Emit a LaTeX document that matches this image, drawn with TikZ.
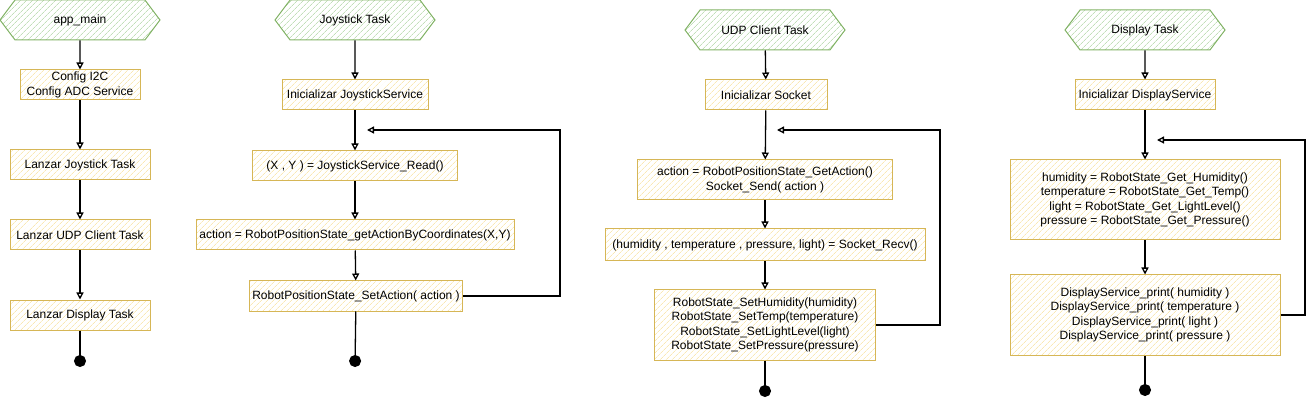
\documentclass[tikz,border=0pt]{standalone}
\usepackage{fontspec}
\setmainfont{Liberation Sans}
\usetikzlibrary{arrows.meta,shapes.symbols,patterns.meta}

\definecolor{hexline}{HTML}{82B366}
\definecolor{hexhatch}{HTML}{C2DFB9}
\definecolor{boxline}{HTML}{D6B656}
\definecolor{boxhatch}{HTML}{F9E8B4}

\tikzset{
	taskhex/.style={signal, signal to=east and west, signal pointer angle=106, draw=hexline, line width=1pt,
		pattern={Lines[angle=45,distance=4pt,line width=0.7pt]}, pattern color=hexhatch,
		minimum width=160pt, minimum height=40pt, inner sep=0pt, font=\fontsize{12}{14.4}\selectfont},
	stepbox/.style={rectangle, draw=boxline, line width=1pt,
		pattern={Lines[angle=45,distance=4pt,line width=0.7pt]}, pattern color=boxhatch,
		minimum height=30pt, inner sep=0pt, align=center, font=\fontsize{12}{14.4}\selectfont},
	flow/.style={line width=1.3pt, -{Triangle[open,length=7pt,width=7pt]}},
	endflow/.style={line width=1.3pt, -{Circle[length=12pt]}}
}

\begin{document}
\begin{tikzpicture}[x=1pt,y=-1pt]
	\useasboundingbox (0,0) rectangle (1314,403);
	%app_main
		\node[taskhex] (mainhex) at (80,20) {app\_main};
		\node[stepbox, minimum width=120pt] (cfg) at (80,85) {Config I2C\\Config ADC Service};
		\node[stepbox, minimum width=140pt] (lanjoy) at (80,165) {Lanzar Joystick Task};
		\node[stepbox, minimum width=140pt] (lanudp) at (80,235) {Lanzar UDP Client Task};
		\node[stepbox, minimum width=140pt] (landisp) at (80,315) {Lanzar Display Task};
		\coordinate (mainend) at (80,367);
		\draw[flow] (mainhex) -- (cfg);
		\draw[flow] (cfg) -- (lanjoy);
		\draw[flow] (lanjoy) -- (lanudp);
		\draw[flow] (lanudp) -- (landisp);
		\draw[endflow] (landisp) -- (mainend);
	%joystick task
		\node[taskhex] (joyhex) at (355,20) {Joystick Task};
		\node[stepbox, minimum width=146pt] (joyinit) at (355,95) {Inicializar JoystickService};
		\node[stepbox, minimum width=205pt] (joyread) at (355,166) {(X , Y ) = JoystickService\_Read()};
		\node[stepbox, minimum width=318pt] (joyact) at (355,235) {action = RobotPositionState\_getActionByCoordinates(X,Y)};
		\node[stepbox, minimum width=213pt] (joyset) at (356,296) {RobotPositionState\_SetAction( action )};
		\coordinate (joyend) at (355,367);
		\coordinate (joyback) at (560,130);
		\coordinate (joyloop) at (367,130);
		\draw[flow] (joyhex) -- (joyinit);
		\draw[flow] (joyinit) -- (joyread);
		\draw[flow] (joyread) -- (joyact);
		\draw[flow] (joyact) -- (joyset);
		\draw[flow] (joyset.east) -| (joyback) -- (joyloop);
		\draw[endflow] (joyset) -- (joyend);
	%udp client task
		\node[taskhex] (udphex) at (765,30) {UDP Client Task};
		\node[stepbox, minimum width=122pt] (udpinit) at (766,95) {Inicializar Socket};
		\node[stepbox, minimum width=255pt, minimum height=40pt] (udpsend) at (765,180) {action = RobotPositionState\_GetAction()\\Socket\_Send( action )};
		\node[stepbox, minimum width=320pt, minimum height=32pt] (udprecv) at (765,245) {(humidity , temperature , pressure, light) = Socket\_Recv()};
		\node[stepbox, minimum width=221pt, minimum height=70pt] (udpset) at (765,325) {RobotState\_SetHumidity(humidity)\\RobotState\_SetTemp(temperature)\\RobotState\_SetLightLevel(light)\\RobotState\_SetPressure(pressure)};
		\coordinate (udpend) at (765,397);
		\coordinate (udpback) at (940,130);
		\coordinate (udploop) at (777,130);
		\draw[flow] (udphex) -- (udpinit);
		\draw[flow] (udpinit) -- (udpsend);
		\draw[flow] (udpsend) -- (udprecv);
		\draw[flow] (udprecv) -- (udpset);
		\draw[flow] (udpset.east) -| (udpback) -- (udploop);
		\draw[endflow] (udpset) -- (udpend);
	%display task
		\node[taskhex] (disphex) at (1145,30) {Display Task};
		\node[stepbox, minimum width=140pt] (dispinit) at (1145,95) {Inicializar DisplayService};
		\node[stepbox, minimum width=270pt, minimum height=80pt] (dispget) at (1145,200) {humidity = RobotState\_Get\_Humidity()\\temperature = RobotState\_Get\_Temp()\\light = RobotState\_Get\_LightLevel()\\pressure = RobotState\_Get\_Pressure()};
		\node[stepbox, minimum width=270pt, minimum height=80pt] (dispprint) at (1145,315) {DisplayService\_print( humidity )\\DisplayService\_print( temperature )\\DisplayService\_print( light )\\DisplayService\_print( pressure )};
		\coordinate (dispend) at (1145,396);
		\coordinate (dispback) at (1305,140);
		\coordinate (disploop) at (1157,140);
		\draw[flow] (disphex) -- (dispinit);
		\draw[flow] (dispinit) -- (dispget);
		\draw[flow] (dispget) -- (dispprint);
		\draw[flow] (dispprint.east) -| (dispback) -- (disploop);
		\draw[endflow] (dispprint) -- (dispend);
\end{tikzpicture}
\end{document}
